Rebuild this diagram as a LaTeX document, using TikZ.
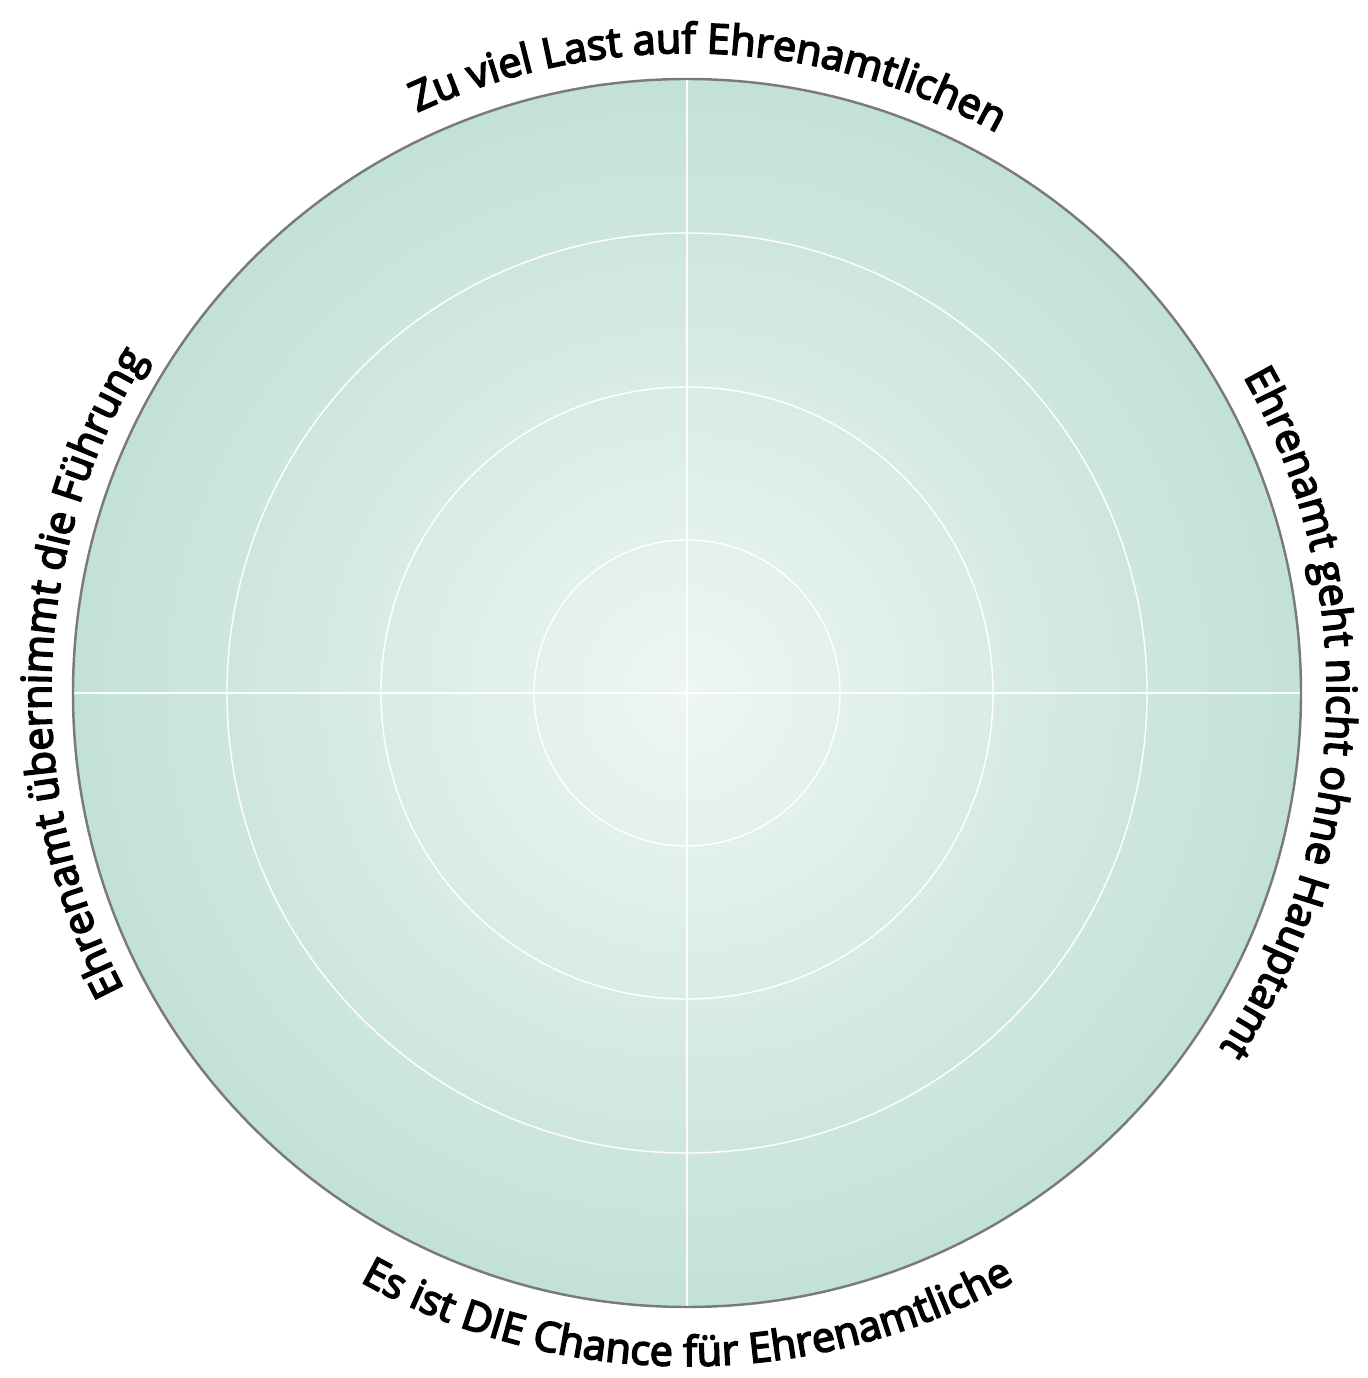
\documentclass[tikz,border=0pt]{standalone}
\usepackage{fontspec}
\setmainfont{Open Sans}
\newfontfamily\ringfamily{Open Sans}[FakeBold=4]
\usetikzlibrary{decorations.text}

\definecolor{discInner}{HTML}{EEF6F3}
\definecolor{discOuter}{HTML}{B5DBCC}
\definecolor{discBorder}{HTML}{7A7A7A}
\pgfdeclareradialshading{discShade}{\pgfpoint{0bp}{0bp}}{color(0bp)=(discInner); color(33bp)=(discOuter); color(50bp)=(discOuter)}
\newcommand{\ringfont}{\ringfamily\fontsize{23.5}{27}\selectfont}

\begin{document}
\begin{tikzpicture}
[x=0.02cm, y=0.02cm,%
  ringDecorate/.style={draw=white, line width=0.8pt},%
  axisDecorate/.style={draw=white, line width=1.1pt},%
  borderDecorate/.style={draw=discBorder, line width=1.4pt},%
  labelDecorate/.style={decorate, decoration={text along path, text align=center, text={#1}}}]
\useasboundingbox (-687,-685) rectangle (680,693);
\coordinate (centre) at (0,0);
%% disc
\shade[shading=discShade] (centre) circle[radius=614];
%% rings
\foreach \r in {153, 306, 460}
{
  \draw[ringDecorate] (centre) circle[radius=\r];
}
%% axes
\foreach \a in {0, 90, 180, 270}
{
  \coordinate (rim\a) at (\a:614);
}
\draw[axisDecorate] (rim180) -- (rim0);
\draw[axisDecorate] (rim270) -- (rim90);
\draw[borderDecorate] (centre) circle[radius=614];
%% labels
\path[labelDecorate={|\ringfont|Zu viel Last auf Ehrenamtlichen}] (133:640) arc[start angle=133, end angle=43, radius=640];
\path[labelDecorate={|\ringfont|Ehrenamt geht nicht ohne Hauptamt}] (43:640) arc[start angle=43, end angle=-47, radius=640];
\path[labelDecorate={|\ringfont|Ehrenamt übernimmt die Führung}] (223:636) arc[start angle=223, end angle=133, radius=636];
\path[labelDecorate={|\ringfont|Es ist DIE Chance für Ehrenamtliche}] (225:673) arc[start angle=225, end angle=315, radius=673];
\end{tikzpicture}
\end{document}
